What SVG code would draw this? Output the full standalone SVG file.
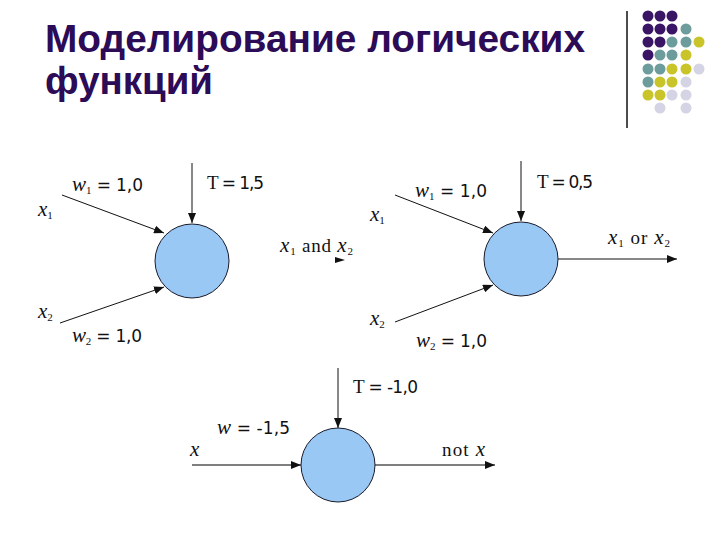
<svg xmlns="http://www.w3.org/2000/svg" width="720" height="540" viewBox="0 0 720 540">
<style>
.title{font-family:"Liberation Sans",Arial,sans-serif;font-weight:bold;font-size:39px;fill:#2c0b57}
.neuron{fill:#99c8f4;stroke:#1a1a2a;stroke-width:1}
.conn{stroke:#111;stroke-width:1;fill:none}
.gray{stroke:#555;stroke-width:1.6;fill:none}
.lbl{font-family:"DejaVu Sans","Liberation Sans",sans-serif;font-size:17px;fill:#111}
.v{font-family:"Liberation Serif","DejaVu Serif",serif;font-style:italic;font-size:21px}
.r{font-family:"Liberation Serif","DejaVu Serif",serif;font-size:19px}
.sub{font-family:"Liberation Serif","DejaVu Serif",serif;font-size:11px}
.p{fill:#3a1566}.t{fill:#6c9c9c}.y{fill:#c9c42a}.l{fill:#d4d4e4}
</style>
<defs>
<marker id="ah" markerUnits="userSpaceOnUse" markerWidth="11" markerHeight="8" refX="10" refY="4" orient="auto">
<path d="M0,0 L10,4 L0,8 z" fill="#111"/>
</marker>
</defs>
<rect width="720" height="540" fill="#fff"/>
<g id="title">
<text class="title" x="45" y="52" textLength="540" lengthAdjust="spacingAndGlyphs">Моделирование логических</text>
<text class="title" x="45" y="94" textLength="168" lengthAdjust="spacingAndGlyphs">функций</text>
</g>
<g id="decor">
<line x1="627" y1="11" x2="627" y2="128" stroke="#111" stroke-width="1.5"/>
<circle class="p" cx="648" cy="16" r="5.5"/><circle class="p" cx="660" cy="16" r="5.5"/><circle class="p" cx="672" cy="16" r="5.5"/>
<circle class="p" cx="648" cy="29" r="5.5"/><circle class="p" cx="660" cy="29" r="5.5"/><circle class="p" cx="672" cy="29" r="5.5"/><circle class="t" cx="686" cy="29" r="5.5"/>
<circle class="p" cx="648" cy="42" r="5.5"/><circle class="p" cx="660" cy="42" r="5.5"/><circle class="t" cx="672" cy="42" r="5.5"/><circle class="t" cx="686" cy="42" r="5.5"/><circle class="y" cx="699" cy="42" r="5.5"/>
<circle class="p" cx="648" cy="55" r="5.5"/><circle class="t" cx="660" cy="55" r="5.5"/><circle class="t" cx="672" cy="55" r="5.5"/><circle class="y" cx="686" cy="55" r="5.5"/>
<circle class="t" cx="648" cy="69" r="5.5"/><circle class="t" cx="660" cy="69" r="5.5"/><circle class="y" cx="672" cy="69" r="5.5"/><circle class="y" cx="686" cy="69" r="5.5"/><circle class="l" cx="699" cy="69" r="5.5"/>
<circle class="t" cx="648" cy="82" r="5.5"/><circle class="y" cx="660" cy="82" r="5.5"/><circle class="y" cx="672" cy="82" r="5.5"/><circle class="l" cx="686" cy="82" r="5.5"/>
<circle class="y" cx="648" cy="95" r="5.5"/><circle class="y" cx="660" cy="95" r="5.5"/><circle class="l" cx="672" cy="95" r="5.5"/><circle class="l" cx="686" cy="95" r="5.5"/>
<circle class="l" cx="660" cy="108" r="5.5"/><circle class="l" cx="686" cy="108" r="5.5"/>
</g>
<g id="connectors">
<line class="conn" x1="192" y1="163" x2="192" y2="223" marker-end="url(#ah)"/>
<line class="conn" x1="62" y1="195" x2="164" y2="233" marker-end="url(#ah)"/>
<line class="conn" x1="60" y1="323" x2="164" y2="287" marker-end="url(#ah)"/>
<path d="M335,257 L345,260 L335,263 z" fill="#111"/>
<line class="conn" x1="521" y1="161" x2="521" y2="221" marker-end="url(#ah)"/>
<line class="conn" x1="395" y1="195" x2="493" y2="233" marker-end="url(#ah)"/>
<line class="conn" x1="395" y1="322" x2="493" y2="285" marker-end="url(#ah)"/>
<line class="conn" x1="558" y1="259" x2="677" y2="259" marker-end="url(#ah)"/>
<line class="conn" x1="338" y1="368" x2="338" y2="428" marker-end="url(#ah)"/>
<line class="gray" x1="192" y1="465" x2="301" y2="465" marker-end="url(#ah)"/>
<line class="gray" x1="375" y1="465" x2="495" y2="465" marker-end="url(#ah)"/>
</g>
<g id="and-neuron">
<circle class="neuron" cx="192" cy="261" r="37"/>
<text class="lbl" x="72" y="191" textLength="71"><tspan class="v">w</tspan><tspan class="sub" dy="3">1</tspan><tspan dy="-3"> = 1,0</tspan></text>
<text class="lbl" x="207" y="189" textLength="57"><tspan class="r">T</tspan> = 1,5</text>
<text class="lbl" x="38" y="216"><tspan class="v">x</tspan><tspan class="sub" dy="3">1</tspan></text>
<text class="lbl" x="38" y="318"><tspan class="v">x</tspan><tspan class="sub" dy="3">2</tspan></text>
<text class="lbl" x="72" y="342" textLength="70"><tspan class="v">w</tspan><tspan class="sub" dy="3">2</tspan><tspan dy="-3"> = 1,0</tspan></text>
<text class="lbl" x="280" y="252" textLength="73"><tspan class="v">x</tspan><tspan class="sub" dy="3">1</tspan><tspan class="r" dy="-3"> and </tspan><tspan class="v">x</tspan><tspan class="sub" dy="3">2</tspan></text>
</g>
<g id="or-neuron">
<circle class="neuron" cx="521" cy="259" r="37"/>
<text class="lbl" x="415" y="197" textLength="72"><tspan class="v">w</tspan><tspan class="sub" dy="3">1</tspan><tspan dy="-3"> = 1,0</tspan></text>
<text class="lbl" x="537" y="188" textLength="56"><tspan class="r">T</tspan> = 0,5</text>
<text class="lbl" x="370" y="221"><tspan class="v">x</tspan><tspan class="sub" dy="3">1</tspan></text>
<text class="lbl" x="370" y="325"><tspan class="v">x</tspan><tspan class="sub" dy="3">2</tspan></text>
<text class="lbl" x="416" y="347" textLength="71"><tspan class="v">w</tspan><tspan class="sub" dy="3">2</tspan><tspan dy="-3"> = 1,0</tspan></text>
<text class="lbl" x="608" y="244" textLength="62"><tspan class="v">x</tspan><tspan class="sub" dy="3">1</tspan><tspan class="r" dy="-3"> or </tspan><tspan class="v">x</tspan><tspan class="sub" dy="3">2</tspan></text>
</g>
<g id="not-neuron">
<circle class="neuron" cx="338" cy="465" r="37"/>
<text class="lbl" x="353" y="393" textLength="65"><tspan class="r">T</tspan> = -1,0</text>
<text class="lbl" x="217" y="434" textLength="73"><tspan class="v">w</tspan> = -1,5</text>
<text class="lbl" x="190" y="456"><tspan class="v">x</tspan></text>
<text class="lbl" x="442" y="456" textLength="43"><tspan class="r">not </tspan><tspan class="v">x</tspan></text>
</g>
</svg>
